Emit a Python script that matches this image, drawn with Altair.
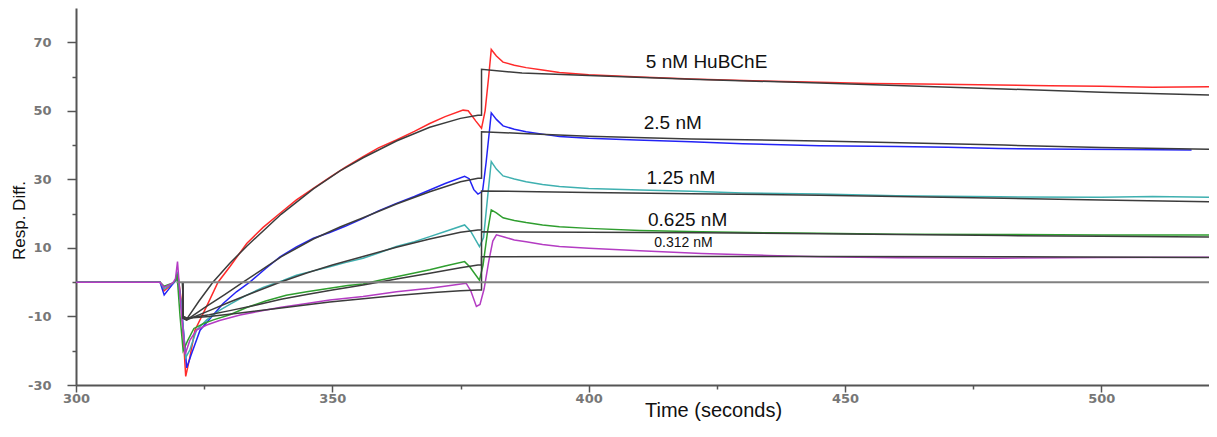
import altair as alt
import pandas as pd

# ---------------- data ----------------
series_names = ["5 nM", "2.5 nM", "1.25 nM", "0.625 nM", "0.312 nM"]
series_colors = ["#ff2a2a", "#2323f5", "#3fb0b0", "#2f9e2f", "#b43cc3"]

red_t = [300, 316.4, 317.2, 318.9, 319.5, 319.8, 320.5, 321.4, 322.2, 323.2, 325.5, 327.7, 330, 333.3, 336.5,
         339.8, 343, 346.3, 349.5, 352.5, 356, 359, 362.5, 366, 369, 372, 375.5, 376.5, 378, 379.1, 379.8,
         380.5, 381, 382, 383.3, 385.5, 387.8, 391, 394.3, 400, 410, 420, 432, 445, 455, 465, 480, 490, 500,
         510, 521]
red_v = [0, 0, -2.5, -0.3, 0.5, 3, -5, -27.5, -22, -14, -7, 0, 4.5, 11.3, 16, 20.1, 24, 27.4, 30.6, 33.5,
         36.6, 39.2, 41.5, 44, 46.3, 48.3, 50.2, 50, 47, 44.9, 50, 60, 67.9, 66, 64.2, 63.3, 62.6, 61.9, 61.2,
         60.5, 59.9, 59.3, 58.8, 58.3, 58.0, 57.8, 57.5, 57.3, 57.2, 56.9, 57.0]

blue_t = [300, 316.4, 317.2, 318.9, 319.5, 319.8, 320.6, 321.6, 322.5, 324.2, 326.5, 328.7, 331.3, 333.9,
          337, 339.8, 343, 346.3, 349.5, 352.5, 356, 359, 362.5, 366, 369, 372, 375.8, 376.7, 377.6, 378.4,
          379.3, 380, 380.7, 381, 382, 383.3, 385.5, 387.8, 391, 394.3, 400, 409.3, 420, 430, 445, 460, 470,
          480, 495, 505, 517.6]
blue_v = [0, 0, -3.7, -0.5, 0.5, 2.5, -8, -25, -21, -14, -10, -6.2, -2.8, 0, 4, 7.4, 10.3, 12.8, 14.5,
          16.3, 18.6, 20.8, 23, 25, 26.9, 28.8, 30.9, 30.2, 27, 25.7, 26.5, 35, 45, 49.4, 47.5, 45.6, 44.6,
          43.9, 43.2, 42.5, 42.0, 41.5, 41.0, 40.4, 39.8, 39.6, 39.4, 39.0, 38.8, 38.7, 38.6]

teal_t = [300, 316.4, 317.2, 318.9, 319.5, 319.8, 320.5, 321.4, 322.2, 323.5, 325.5, 328, 330, 333, 336.5,
          340.4, 343, 346.3, 349.5, 352.5, 356, 359, 362.5, 366, 369, 372, 375.8, 377, 378.7, 379.5, 380.3,
          381, 382, 383.3, 385.5, 387.8, 391, 394.3, 400, 410, 420, 430, 445, 460, 480, 500, 510, 521]
teal_v = [0, 0, -2, -0.3, 0.5, 3, -6, -22, -19.8, -14, -11, -8.2, -6.5, -4, -1.5, 0.5, 2, 3.3, 4.5, 5.7,
          7.0, 8.5, 10.4, 11.8, 13.3, 14.8, 16.7, 14.8, 10.4, 13, 25, 35.2, 33, 31.0, 30.1, 29.3, 28.5, 27.9,
          27.3, 26.9, 26.5, 26.0, 25.7, 25.2, 24.9, 24.8, 25.0, 24.8]

green_t = [300, 316.4, 317.2, 318.9, 319.4, 319.7, 320.3, 320.9, 321.8, 323, 325, 326.8, 330, 333.3, 337,
           341, 345, 349.5, 353, 356, 359, 362.5, 366, 369, 372, 375.8, 376.8, 378.7, 379.4, 380.3, 381,
           382, 383.3, 385.5, 387.8, 391, 394.3, 400, 410, 422, 435, 445, 460, 480, 500, 521]
green_v = [0, 0, -1.2, -0.2, 0.5, 2.5, -10, -20, -17, -13.5, -12, -11, -9.5, -7.4, -5.5, -3.8, -2.8,
           -1.8, -1.0, -0.5, 0.5, 1.6, 2.7, 3.6, 4.7, 6.0, 4.5, 0.6, 5, 15, 21.1, 20.2, 18.8, 18, 17.4, 16.7,
           16.2, 15.7, 15.1, 14.7, 14.4, 14.3, 14.0, 13.9, 13.8, 13.8]

purple_t = [300, 316.4, 317.2, 318.9, 319.4, 319.8, 320.5, 321.3, 322.2, 323.5, 325.5, 328, 332, 336, 340,
            345, 349.5, 356, 362.5, 369, 373, 376.1, 377, 378.1, 378.8, 379.6, 380.5, 381.3, 382, 383.5,
            385.5, 387.8, 391, 394.3, 400, 410, 422, 435, 445, 460, 480, 500, 521]
purple_v = [0, 0, -1.5, -0.2, 1, 6, -8, -21, -17, -14, -12.5, -11.2, -9.6, -8.4, -7.3, -6.2, -5.2, -4.2,
            -2.8, -1.8, -1, -0.3, -2.5, -7.1, -6.5, -2, 6, 12, 13.8, 13.2, 12.3, 11.8, 11, 10.4, 9.9, 9.2,
            8.4, 7.8, 7.4, 7.1, 7.0, 7.2, 7.3]

# fitted curves
red_fit_t = [320.8, 320.9, 321.5, 324, 326.7, 330, 333.3, 340, 346.3, 351.5, 356, 362.5, 369, 375, 378.4,
             379.1, 379.1, 387, 400, 420, 445, 481, 500, 521]
red_fit_v = [0, -10.5, -11, -5.5, 0, 5.5, 10.5, 19.8, 27.2, 32.5, 36.3, 41.2, 45.2, 47.8, 48.7,
             48.7, 62.1, 61.0, 60.3, 59.2, 58.1, 56.4, 55.4, 54.6]

blue_fit_t = [320.8, 320.9, 321.6, 325, 329, 332.6, 336, 340, 346.3, 351.5, 356, 362.5, 369, 375, 378.4,
              379.1, 379.1, 387, 400, 420, 445, 481, 500, 521]
blue_fit_v = [0, -10.5, -11, -7.5, -3.6, 0, 3.4, 7.4, 12.6, 16.1, 18.8, 22.8, 26.4, 29.3, 30.3,
              30.3, 43.9, 43.4, 42.6, 41.8, 41.2, 40.0, 39.3, 38.8]

teal_fit_t = [320.8, 320.9, 321.6, 326, 330, 335, 339.8, 345, 350, 356, 362.5, 369, 375, 378.4,
              379.1, 379.1, 390, 400, 420, 445, 481, 500, 521]
teal_fit_v = [0, -10.5, -11, -8.3, -5.8, -2.8, 0, 2.7, 5, 7.5, 10.2, 12.6, 14.6, 15.2,
              15.2, 26.6, 26.4, 26.2, 25.8, 25.4, 24.5, 24.0, 23.5]

green_fit_t = [320.8, 320.9, 321.6, 326, 330, 335, 340, 345, 350, 356, 362.5, 369, 375, 378.4,
               379.1, 379.1, 400, 422, 445, 481, 500, 521]
green_fit_v = [0, -10, -10.5, -9.5, -8.3, -6.7, -5, -3.6, -2.3, -0.8, 0.9, 2.6, 4.2, 5.0,
               5.0, 14.7, 14.6, 14.4, 14.1, 13.6, 13.4, 13.2]

purple_fit_t = [320.8, 320.9, 321.6, 326, 332, 340, 349.5, 356, 362.5, 369, 375, 378.4,
                379.1, 379.1, 400, 445, 481, 521]
purple_fit_v = [0, -10, -10.5, -10, -9, -7.5, -5.8, -4.8, -3.9, -3.1, -2.5, -2.3,
                -2.3, 7.4, 7.5, 7.5, 7.4, 7.2]

zero_t = [319.6, 521]
zero_v = [0, 0]

label_text = ["5 nM HuBChE", "2.5 nM", "1.25 nM", "0.625 nM", "0.312 nM"]
label_t = [423.0, 416.4, 418.0, 419.3, 418.5]
label_v = [64.2, 46.5, 30.3, 18.1, 11.3]
label_size = [19, 19, 19, 19, 14]

x_ticks = [300, 325, 350, 375, 400, 425, 450, 475, 500]
y_ticks = [-30, -20, -10, 0, 10, 20, 30, 40, 50, 60, 70]

# ---------------- tables ----------------
def build(pairs):
    rows = []
    for name, ts, vs in pairs:
        for i, (t, v) in enumerate(zip(ts, vs)):
            rows.append({"series": name, "t": t, "v": v, "i": i})
    return pd.DataFrame(rows)

df_data = build(zip(series_names, [red_t, blue_t, teal_t, green_t, purple_t],
                    [red_v, blue_v, teal_v, green_v, purple_v]))
df_fit = build(zip(series_names, [red_fit_t, blue_fit_t, teal_fit_t, green_fit_t, purple_fit_t],
                   [red_fit_v, blue_fit_v, teal_fit_v, green_fit_v, purple_fit_v]))
df_zero = build([("0", zero_t, zero_v)])
df_lab = pd.DataFrame({"text": label_text, "t": label_t, "v": label_v, "fs": label_size})

# ---------------- encodings ----------------
x_enc = alt.X(
    "t:Q",
    scale=alt.Scale(domain=[300, 521], nice=False, zero=False),
    axis=alt.Axis(
        values=x_ticks,
        labelExpr="datum.value % 50 === 0 ? '' + datum.value : ''",
        tickSize={"condition": {"test": "datum.value % 50 === 0", "value": 7}, "value": 4},
        grid=False, labelFlush=False, labelOverlap=False,
        domainColor="#555555", domainWidth=2, tickColor="#555555", tickWidth=1.5,
        labelColor="#777777", labelFont="DejaVu Sans", labelFontWeight="bold", labelFontSize=13,
        labelPadding=0,
        title="Time (seconds)", titleFont="Liberation Sans", titleFontSize=20,
        titleFontWeight="normal", titleColor="#111111",
        titleX=637, titleY=15, titleBaseline="top", titleAlign="center",
    ),
)
y_enc = alt.Y(
    "v:Q",
    scale=alt.Scale(domain=[-30, 80], nice=False, zero=False),
    axis=alt.Axis(
        values=y_ticks,
        labelExpr="abs(datum.value) % 20 === 10 ? '' + datum.value : ''",
        tickSize={"condition": {"test": "abs(datum.value) % 20 === 10", "value": 9}, "value": 4},
        grid=False, labelFlush=False, labelOverlap=False,
        domainColor="#555555", domainWidth=2, tickColor="#555555", tickWidth=1.5,
        labelColor="#777777", labelFont="DejaVu Sans", labelFontWeight="bold", labelFontSize=13,
        labelPadding=16,
        title="Resp. Diff.", titleFont="Liberation Sans", titleFontSize=17,
        titleFontWeight="normal", titleColor="#111111",
        titleX=-48, titleY=212, titleBaseline="bottom", titleAlign="center", titleAngle=270,
    ),
)

data_layer = alt.Chart(df_data).mark_line(strokeWidth=1.5).encode(
    x=x_enc, y=y_enc,
    color=alt.Color("series:N", scale=alt.Scale(domain=series_names, range=series_colors), legend=None),
    order=alt.Order("i:Q"),
)

fit_layer = alt.Chart(df_fit).mark_line(strokeWidth=1.5, color="#3c3c3c").encode(
    x=x_enc, y=y_enc, detail="series:N", order=alt.Order("i:Q"),
)

zero_layer = alt.Chart(df_zero).mark_line(strokeWidth=2, color="#808080").encode(
    x=x_enc, y=y_enc, order=alt.Order("i:Q"),
)

text_layer = alt.Chart(df_lab).mark_text(
    font="Liberation Sans", color="#111111", align="center", baseline="middle"
).encode(
    x=x_enc, y=y_enc, text="text:N", size=alt.Size("fs:Q", scale=None),
)

chart = alt.layer(data_layer, fit_layer, zero_layer, text_layer).properties(
    width=1133, height=377,
    autosize=alt.AutoSizeParams(type="none"),
    padding={"left": 68, "top": 0, "right": 0, "bottom": 40},
    background="white",
).configure_view(strokeWidth=0)

chart.save("out.html", embed_options={"renderer": "svg", "actions": False})
